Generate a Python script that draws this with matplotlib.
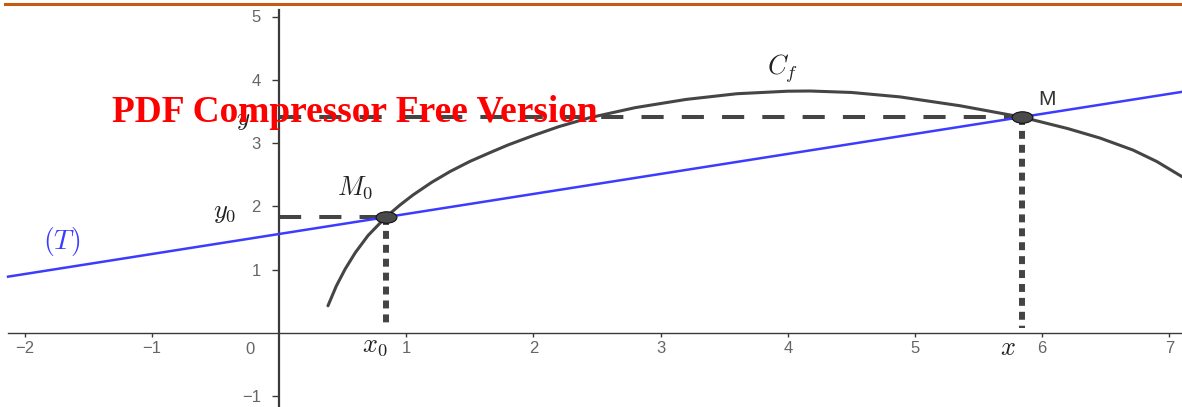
import numpy as np
import matplotlib
matplotlib.use("Agg")
import matplotlib.pyplot as plt
from matplotlib.lines import Line2D
from matplotlib.path import Path

plt.rcParams['font.family'] = ['Liberation Sans', 'DejaVu Sans']
plt.rcParams['mathtext.fontset'] = 'cm'

# courbe C_f
curve_x = [0.385, 0.45, 0.52, 0.60, 0.70, 0.841, 0.95, 1.053, 1.20, 1.344, 1.50,
           1.659, 1.80, 2.00, 2.20, 2.44, 2.80, 3.20, 3.60, 4.00, 4.175, 4.50,
           4.882, 5.354, 5.841, 6.20, 6.454, 6.714, 6.90, 7.099]
curve_y = [0.43, 0.74, 1.01, 1.27, 1.54, 1.833, 2.02, 2.18, 2.38, 2.55, 2.71,
           2.85, 2.97, 3.12, 3.26, 3.40, 3.56, 3.69, 3.78, 3.82, 3.823, 3.80,
           3.73, 3.59, 3.41, 3.23, 3.08, 2.89, 2.71, 2.47]

# tangente (T)
tangent_x = [-2.13, 7.10]
tangent_y = [0.89, 3.81]

# points M0 et M
pts_x = [0.84, 5.84]
pts_y = [1.83, 3.41]

xticks = [-2, -1, 1, 2, 3, 4, 5, 6, 7]
yticks = [-1, 1, 2, 3, 4, 5]

W, H = 1182, 407
fig = plt.figure(figsize=(W / 100, H / 100), dpi=100)
ax = fig.add_axes([0, 0, 1, 1])
ax.set_xlim(-279 / 127.2, (W - 279) / 127.2)
ax.set_ylim(-(H - 333) / 63.3, 333 / 63.3)

# axes style GeoGebra
for s in ['top', 'right']:
    ax.spines[s].set_visible(False)
ax.spines['left'].set_position('zero')
ax.spines['bottom'].set_position('zero')
ax.spines['left'].set_bounds(-1.17, 5.10)
ax.spines['bottom'].set_bounds(-2.13, 7.10)
ax.spines['left'].set_linewidth(1.6)
ax.spines['bottom'].set_linewidth(1.0)
ax.spines['left'].set_color('#3a3a3a')
ax.spines['bottom'].set_color('#3a3a3a')
ax.set_xticks(xticks)
ax.set_yticks(yticks)
ax.tick_params(axis='x', direction='out', length=3, width=1, color='#3a3a3a',
               pad=3, labelsize=12, labelcolor='#666666')
ax.tick_params(axis='y', direction='out', length=5, width=1, color='#3a3a3a',
               pad=8, labelsize=12, labelcolor='#666666')
ax.text(-0.228, -0.253, '0', ha='center', va='center', fontsize=12, color='#666666')

# pointillés
for px, py in zip(pts_x, pts_y):
    ax.plot([0, px], [py, py], color='#444444', lw=2.9, dashes=(5.5, 4.5),
            dash_capstyle='butt', zorder=2)
    ax.plot([px, px], [py, 0.08], color='#444444', lw=4.3, dashes=(1.33, 1.0),
            dash_capstyle='butt', zorder=2)

ax.plot(curve_x, curve_y, color='#454545', lw=2.2, solid_capstyle='round',
        solid_joinstyle='round', zorder=3)
ax.plot(tangent_x, tangent_y, color='#3c3cff', lw=1.8, zorder=4)

# marqueur elliptique
circ = Path.unit_circle()
ell = Path(circ.vertices * np.array([1.0, 0.55]), circ.codes)
ax.plot(pts_x, pts_y, ls='none', marker=ell, markersize=15, markerfacecolor='#4a4a4a',
        markeredgecolor='#111111', markeredgewidth=0.8, zorder=5)

# étiquettes
ax.text(3.955, 4.186, r'$C_f$', ha='center', va='center', fontsize=19, color='#222222')
ax.text(0.597, 2.291, r'$M_0$', ha='center', va='center', fontsize=19, color='#222222')
ax.text(6.038, 3.681, 'M', ha='center', va='center', fontsize=15, color='#333333')
ax.text(-0.283, 3.365, r'$y$', ha='center', va='center', fontsize=18, color='#222222')
ax.text(-0.425, 1.896, r'$y_0$', ha='center', va='center', fontsize=19, color='#222222')
ax.text(0.755, -0.205, r'$x_0$', ha='center', va='center', fontsize=19, color='#222222')
ax.text(5.731, -0.237, r'$x$', ha='center', va='center', fontsize=19, color='#222222')
ax.text(-1.706, 1.438, r'$(T)$', ha='center', va='center', fontsize=20, color='#3c3cff')

# bandeau orange + filigrane
fig.add_artist(Line2D([5 / W, 1], [1 - 3.5 / H, 1 - 3.5 / H], transform=fig.transFigure,
                      color='#c55a11', lw=2.2))
fig.text(112 / W, 1 - 122 / H, 'PDF Compressor Free Version', ha='left', va='baseline',
         fontsize=26.9, fontweight='bold', color='#ff0000',
         family=['Liberation Serif', 'DejaVu Serif'], zorder=10)

fig.savefig('out.png', dpi=100)
